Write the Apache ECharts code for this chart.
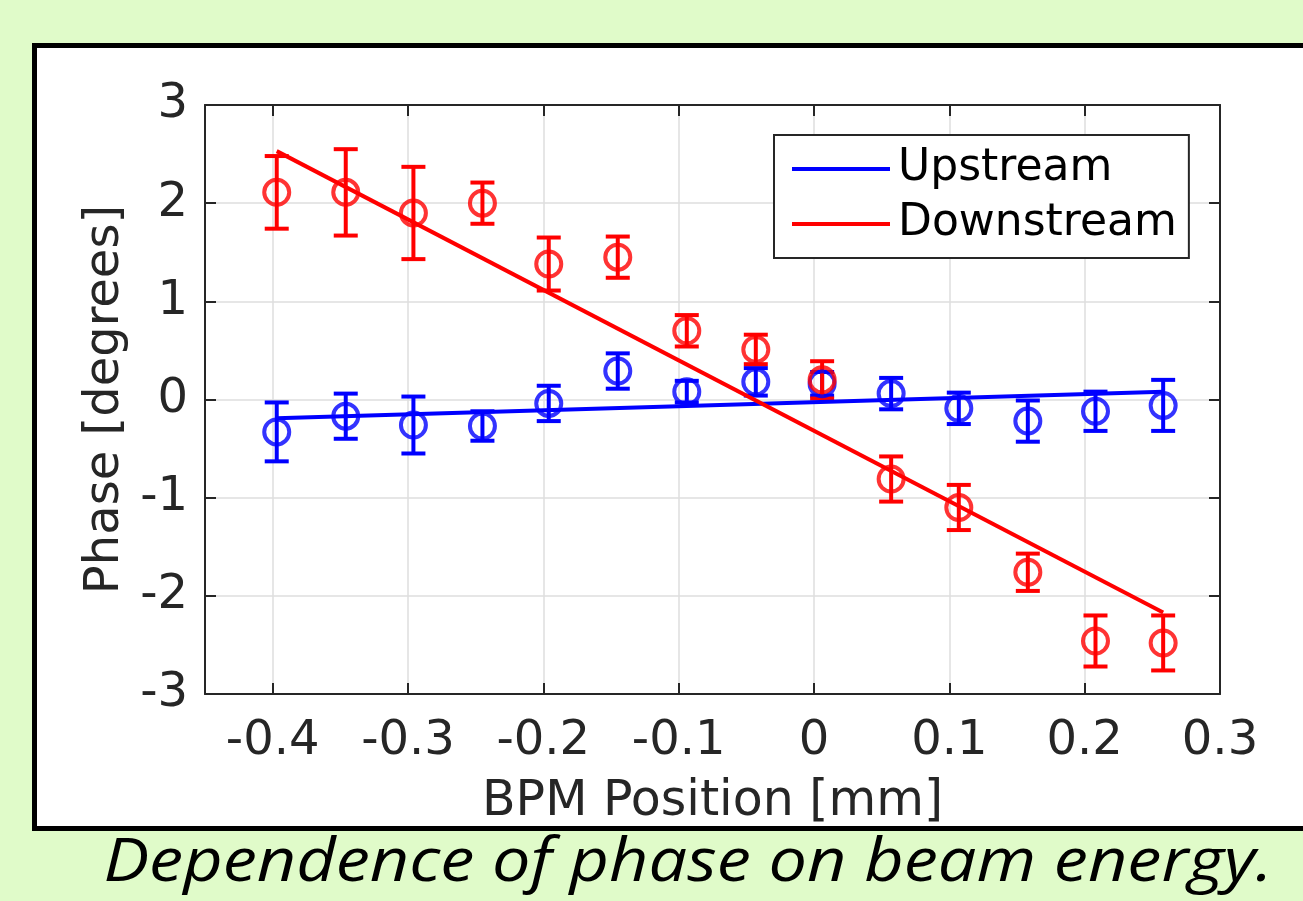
<!DOCTYPE html>
<html>
<head>
<meta charset="utf-8">
<script src="https://cdn.jsdelivr.net/npm/echarts@6/dist/echarts.min.js"></script>
<style>
  html, body { margin: 0; padding: 0; background: #e0fbc9; }
  #main { width: 1303px; height: 901px; }
</style>
</head>
<body>
<div id="main"></div>
<script>
// BPM positions (mm), same for both pickups
var bpmPos = [-0.397, -0.346, -0.296, -0.245, -0.196, -0.145, -0.094, -0.043, 0.006, 0.057, 0.107, 0.158, 0.208, 0.258];

var upPhase = [-0.33, -0.17, -0.26, -0.27, -0.04, 0.29, 0.08, 0.18, 0.16, 0.06, -0.09, -0.22, -0.12, -0.06];
var upErr   = [0.30, 0.23, 0.29, 0.15, 0.18, 0.18, 0.11, 0.14, 0.12, 0.16, 0.16, 0.21, 0.20, 0.26];

var downPhase = [2.11, 2.11, 1.90, 2.00, 1.38, 1.45, 0.70, 0.51, 0.20, -0.81, -1.10, -1.76, -2.46, -2.48];
var downErr   = [0.37, 0.44, 0.47, 0.21, 0.27, 0.21, 0.16, 0.15, 0.19, 0.23, 0.23, 0.19, 0.26, 0.28];

// linear fits (end points)
var fitX = [-0.397, 0.258];
var upFit = [-0.19, 0.08];
var downFit = [2.53, -2.17];

var xTicks = [-0.4, -0.3, -0.2, -0.1, 0, 0.1, 0.2, 0.3];

var FONT = 'DejaVu Sans';
var TXT = '#262626';

var chartDom = document.getElementById('main');
var myChart = echarts.init(chartDom);

function pairs(xs, ys) {
    return xs.map(function (x, i) { return [x, ys[i]]; });
}
function errData(xs, ys, es) {
    return xs.map(function (x, i) { return [x, ys[i] - es[i], ys[i] + es[i]]; });
}

function errRender(color) {
    return function (params, api) {
        var x = api.value(0);
        var lo = api.coord([x, api.value(1)]);
        var hi = api.coord([x, api.value(2)]);
        var hw = 12;
        var st = { stroke: color, lineWidth: 4 };
        return {
            type: 'group',
            children: [
                { type: 'line', shape: { x1: lo[0], y1: lo[1], x2: hi[0], y2: hi[1] }, style: st },
                { type: 'line', shape: { x1: lo[0] - hw, y1: lo[1], x2: lo[0] + hw, y2: lo[1] }, style: st },
                { type: 'line', shape: { x1: hi[0] - hw, y1: hi[1], x2: hi[0] + hw, y2: hi[1] }, style: st }
            ]
        };
    };
}

function dataSeries(name, color, ys, es, fit) {
    return [
        {
            name: name + ' err',
            type: 'custom',
            renderItem: errRender(color),
            data: errData(bpmPos, ys, es),
            silent: true,
            z: 3
        },
        {
            name: name + ' pts',
            type: 'scatter',
            symbol: 'circle',
            symbolSize: 25,
            itemStyle: { color: 'transparent', borderColor: color, borderWidth: 4 },
            data: pairs(bpmPos, ys),
            silent: true,
            z: 3
        },
        {
            name: name,
            type: 'line',
            symbol: 'none',
            lineStyle: { color: color, width: 4 },
            itemStyle: { color: color },
            data: pairs(fitX, fit),
            silent: true,
            z: 3
        }
    ];
}

var option = {
    backgroundColor: '#e0fbc9',
    animation: false,
    graphic: [
        {
            type: 'rect',
            shape: { x: 34.5, y: 45.5, width: 1320, height: 783 },
            style: { fill: '#ffffff', stroke: '#000000', lineWidth: 5 },
            z: -10
        },
        {
            type: 'text',
            x: 688,
            y: 864,
            scaleX: 1.14,
            style: {
                text: 'Dependence of phase on beam energy.',
                fontFamily: 'Open Sans',
                fontStyle: 'italic',
                fontSize: 60,
                fill: '#000000',
                textAlign: 'center',
                textVerticalAlign: 'middle'
            },
            z: 10
        }
    ],
    legend: {
        data: ['Upstream', 'Downstream'],
        orient: 'vertical',
        left: 774,
        top: 135,
        icon: 'rect',
        itemWidth: 98,
        itemHeight: 4,
        itemGap: 11,
        padding: [12, 12, 12, 18],
        backgroundColor: '#ffffff',
        borderColor: TXT,
        borderWidth: 2,
        borderRadius: 0,
        textStyle: { fontFamily: FONT, fontSize: 44, color: '#000000', padding: [0, 0, 0, 3], lineHeight: 44 }
    },
    grid: { left: 205, top: 105, right: 83, bottom: 207, containLabel: false },
    xAxis: [
        {
            type: 'value',
            min: -0.45,
            max: 0.3,
            name: 'BPM Position [mm]',
            nameLocation: 'middle',
            nameGap: 84,
            nameTextStyle: { fontFamily: FONT, fontSize: 49, color: TXT },
            axisLine: { onZero: false, lineStyle: { color: TXT, width: 2 } },
            axisTick: { inside: true, length: 11, customValues: xTicks, lineStyle: { color: TXT, width: 2 } },
            axisLabel: { customValues: xTicks, fontFamily: FONT, fontSize: 48, color: TXT, margin: 24,
                formatter: function (v) { return (Math.round(v * 10) / 10).toString(); } },
            splitLine: { show: true, lineStyle: { color: '#dedede', width: 1.5 } }
        },
        {
            type: 'value',
            position: 'top',
            min: -0.45,
            max: 0.3,
            axisLine: { onZero: false, lineStyle: { color: TXT, width: 2 } },
            axisTick: { inside: true, length: 11, customValues: xTicks, lineStyle: { color: TXT, width: 2 } },
            axisLabel: { show: false },
            splitLine: { show: false }
        }
    ],
    yAxis: [
        {
            type: 'value',
            min: -3,
            max: 3,
            interval: 1,
            name: 'Phase [degrees]',
            nameLocation: 'middle',
            nameGap: 74,
            nameTextStyle: { fontFamily: FONT, fontSize: 48, color: TXT },
            axisLine: { show: true, onZero: false, lineStyle: { color: TXT, width: 2 } },
            axisTick: { show: true, inside: true, length: 11, lineStyle: { color: TXT, width: 2 } },
            axisLabel: { fontFamily: FONT, fontSize: 48, color: TXT, margin: 17 },
            splitLine: { show: true, lineStyle: { color: '#dedede', width: 1.5 } }
        },
        {
            type: 'value',
            position: 'right',
            min: -3,
            max: 3,
            interval: 1,
            axisLine: { show: true, onZero: false, lineStyle: { color: TXT, width: 2 } },
            axisTick: { show: true, inside: true, length: 11, lineStyle: { color: TXT, width: 2 } },
            axisLabel: { show: false },
            splitLine: { show: false }
        }
    ],
    series: [].concat(
        dataSeries('Upstream', '#0000ff', upPhase, upErr, upFit),
        dataSeries('Downstream', '#ff0000', downPhase, downErr, downFit)
    )
};

option && myChart.setOption(option);
</script>
</body>
</html>
